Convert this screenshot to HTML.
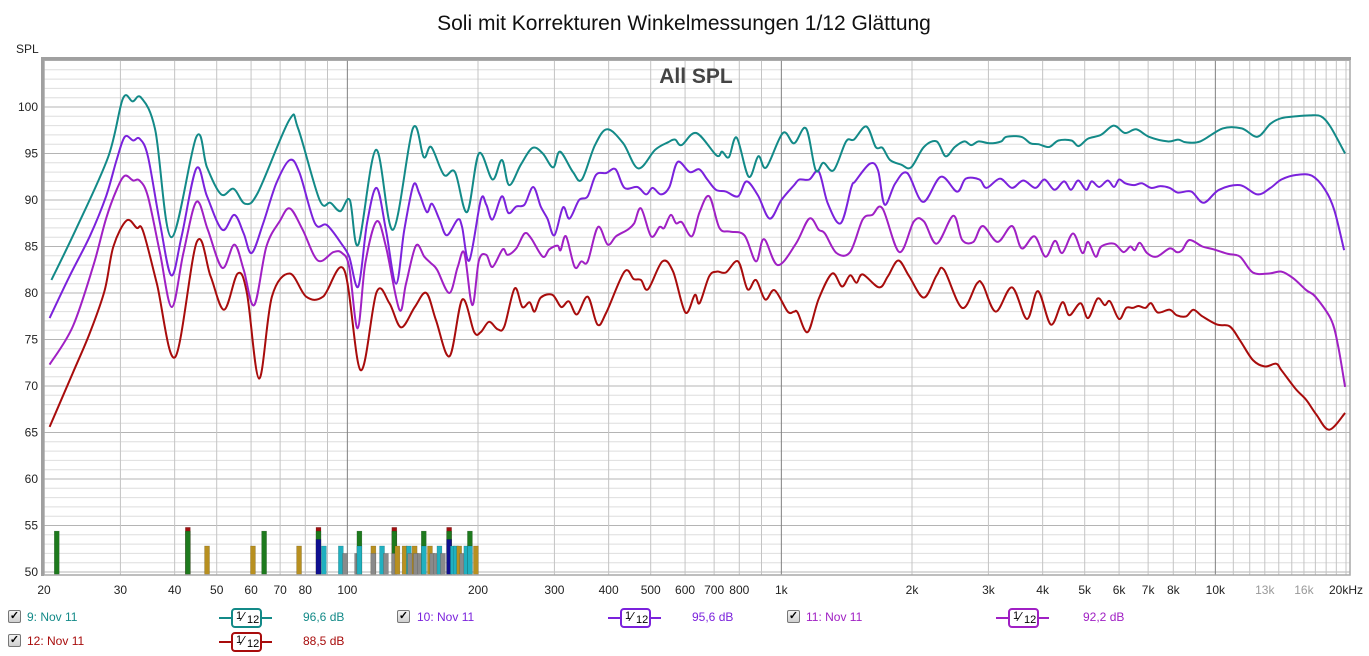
<!DOCTYPE html>
<html><head><meta charset="utf-8">
<style>
body{margin:0;background:#fff;width:1369px;height:656px;overflow:hidden;font-family:"Liberation Sans",sans-serif;}
#wrap{position:relative;width:1369px;height:656px;}
.leg{position:absolute;font-size:12px;}
.cb{position:absolute;width:11px;height:11px;border:1px solid #777;background:linear-gradient(#f4f4f4,#cfcfcf);border-radius:2px;font-size:11px;line-height:11px;text-align:center;color:#000;font-weight:bold;}
.flt{position:absolute;height:20px;}
.flt .ln{position:absolute;top:9px;height:2px;left:0;right:0;}
.flt .bx{position:absolute;top:0;left:12px;width:27px;height:16px;border:2px solid;border-radius:4px;background:#fff;color:#000;font-size:11px;}
</style></head><body>
<div id="wrap">
<svg id="chart" width="1369" height="600" style="position:absolute;left:0;top:0">
<text x="684" y="30" text-anchor="middle" font-size="21" fill="#111" font-family="Liberation Sans, sans-serif">Soli mit Korrekturen Winkelmessungen 1/12 Glättung</text>
<text x="16" y="53" font-size="12" fill="#222" font-family="Liberation Sans, sans-serif">SPL</text>
<g id="grid"></g>
<g id="bars"></g>
<g id="lines"></g>
<text x="696" y="83" text-anchor="middle" font-size="21" font-weight="bold" fill="#444" font-family="Liberation Sans, sans-serif">All SPL</text>
<g id="axes"></g>
</svg>

<div class="cb" style="left:8px;top:610px">✓</div>
<div class="leg" style="left:27px;top:610px;color:#138a88">9: Nov 11</div>
<div class="flt" style="left:219px;top:608px"><div class="ln" style="background:#138a88;width:53px"></div><div class="bx" style="border-color:#138a88"><span style="position:absolute;left:3px;top:0">1</span><span style="position:absolute;left:9px;top:-1px;font-size:13px">⁄</span><span style="position:absolute;left:14px;top:4px">12</span></div></div>
<div class="leg" style="left:303px;top:610px;color:#138a88">96,6 dB</div>

<div class="cb" style="left:397px;top:610px">✓</div>
<div class="leg" style="left:417px;top:610px;color:#7b22dc">10: Nov 11</div>
<div class="flt" style="left:608px;top:608px"><div class="ln" style="background:#7b22dc;width:53px"></div><div class="bx" style="border-color:#7b22dc"><span style="position:absolute;left:3px;top:0">1</span><span style="position:absolute;left:9px;top:-1px;font-size:13px">⁄</span><span style="position:absolute;left:14px;top:4px">12</span></div></div>
<div class="leg" style="left:692px;top:610px;color:#7b22dc">95,6 dB</div>

<div class="cb" style="left:787px;top:610px">✓</div>
<div class="leg" style="left:806px;top:610px;color:#a020c4">11: Nov 11</div>
<div class="flt" style="left:996px;top:608px"><div class="ln" style="background:#a020c4;width:53px"></div><div class="bx" style="border-color:#a020c4"><span style="position:absolute;left:3px;top:0">1</span><span style="position:absolute;left:9px;top:-1px;font-size:13px">⁄</span><span style="position:absolute;left:14px;top:4px">12</span></div></div>
<div class="leg" style="left:1083px;top:610px;color:#a020c4">92,2 dB</div>

<div class="cb" style="left:8px;top:634px">✓</div>
<div class="leg" style="left:27px;top:634px;color:#a80c0c">12: Nov 11</div>
<div class="flt" style="left:219px;top:632px"><div class="ln" style="background:#a80c0c;width:53px"></div><div class="bx" style="border-color:#a80c0c"><span style="position:absolute;left:3px;top:0">1</span><span style="position:absolute;left:9px;top:-1px;font-size:13px">⁄</span><span style="position:absolute;left:14px;top:4px">12</span></div></div>
<div class="leg" style="left:303px;top:634px;color:#a80c0c">88,5 dB</div>
</div>
<script>
const yTicks=[100,95,90,85,80,75,70,65,60,55,50];
const xTickFreqs=[20,30,40,50,60,70,80,100,200,300,400,500,600,700,800,1000,2000,3000,4000,5000,6000,7000,8000,10000,13000,16000,20000];
const xTickLabels=["20","30","40","50","60","70","80","100","200","300","400","500","600","700","800","1k","2k","3k","4k","5k","6k","7k","8k","10k","13k","16k","20kHz"];

const freq9=[20.8,23.5,28.1,30.4,32,33.5,36.1,39.3,44.9,47.5,51.2,54.7,58.1,62.2,73.5,77,86.3,91.4,96.3,101.3,106,116.4,127.4,141.6,150,156,167,177,188.8,201,216,227,236,251,267,282,298,309,331,347,372,397,432,468,512,548,569,589,637,709,730,757,789,841,885,923,1008,1070,1140,1200,1250,1320,1410,1470,1570,1650,1710,1780,1890,1990,2130,2280,2390,2510,2640,2740,2850,3020,3210,3300,3570,3750,3910,4140,4350,4660,4840,5090,5450,5830,6190,6570,7030,7760,8210,8550,9230,10400,11500,12500,13400,14200,15400,16500,17500,18400,19900];
const spl9=[81.4,86.5,94.6,100.9,100.6,101,97.5,86,96.8,93.5,90.6,91.2,89.6,90.8,98.6,97.7,90,89.7,88.8,90,85.2,95.4,86.8,97.7,94.6,95.7,92.7,93,88.7,95,92.2,94.3,91.6,93.8,95.6,95,93.5,95.2,93,92.2,95.9,97.6,96.1,93.4,95.4,96.2,96.5,95.9,97.2,94.8,95.2,94.6,96.7,92.5,94.7,93.5,97.2,96.1,97.7,93.2,94.0,93.2,96.3,96.5,97.9,95.7,95.6,94.3,93.8,93.5,95.7,96.3,94.7,95.7,96.3,95.9,96.3,96.1,96.3,96.8,96.8,96.1,96.0,95.7,96.4,96.4,95.8,96.6,97.0,98.0,97.2,97.6,96.8,96.3,96.5,96.2,96.3,97.7,97.7,96.8,98.2,98.8,99.0,99.1,99.0,97.9,95.0];

const freq10=[20.6,22.9,25.5,27.8,29.4,30.7,32.1,33.2,34.7,37.0,39.3,41.5,44.9,47.5,51.5,54.9,57.7,60.2,64.0,68.6,73.7,77.6,84.2,89.7,96.9,101,106,111,116.8,122.7,129.5,135.3,142,146.5,152.4,156.7,163,169.5,179.6,183.8,191,203,209,216,227,235,245,256,268,279,289,300,314,325,342,358,374,395,415,435,466,488,505,528,552,577,615,647,675,707,745,795,831,883,940,1000,1070,1100,1160,1220,1280,1370,1450,1480,1600,1670,1730,1830,1950,2120,2330,2540,2660,2860,2970,3190,3400,3610,3850,4040,4260,4480,4650,4830,5040,5190,5400,5650,5840,6000,6200,6500,6770,7110,7470,7850,8200,8800,9400,10200,11400,12500,13400,14200,15400,16700,17900,18800,19800];
const spl10=[77.3,81.8,86.1,90.4,94.3,96.8,96.4,96.6,94.7,87.5,81.9,86.1,93.4,90.4,86.8,88.4,86.4,84.3,87.5,91.8,94.3,92.9,87.5,87.3,85.3,83.9,80.7,87.5,91.3,86.8,81.0,86.8,91.6,90.7,88.7,89.6,87.9,86.2,87.9,87.1,83.5,90.0,89.5,87.9,90.4,88.6,89.3,89.5,91.4,89.3,88.0,86.2,89.2,88.0,90.0,90.4,92.7,92.9,93.3,91.3,91.4,90.6,91.3,90.6,91.4,94.1,93.0,93.3,92.2,91.1,90.9,90.4,92.0,90.5,88.0,90.0,91.6,92.2,92.2,93.05,89.6,87.5,91.4,92.0,93.9,93.2,89.5,91.8,92.9,89.8,92.5,90.9,92.3,92.2,91.3,92.3,91.3,92.1,91.3,92.2,91.1,92.0,91.1,92.1,91.1,92.0,91.4,92.1,91.4,92.2,91.8,91.6,91.8,91.3,91.5,91.3,90.8,90.9,89.7,91.1,91.6,90.6,91.3,92.2,92.7,92.6,91.1,88.9,84.6];

const freq11=[20.6,23.3,26,27.8,29.4,30.7,32.1,33.2,34.7,37,39.4,41.9,44.9,47.7,51.5,54.9,57.7,61,65.1,69.8,73.7,78.9,85.5,92.9,97.2,101,105.6,110,116.8,122.7,131.8,136.5,143.9,150.4,155.8,161,171.8,179.6,186,194,201,209,216,228,234,245,256,265,282,292,305,310,319,334,346,358,378,398,416,442,458,475,501,524,537,556,572,590,622,648,682,720,761,822,874,912,981,1080,1160,1220,1260,1340,1440,1540,1620,1710,1870,2020,2130,2280,2490,2610,2770,2910,3150,3400,3580,3830,4060,4270,4440,4700,4940,5090,5300,5460,5840,6140,6370,6520,6700,6960,7320,7850,8150,8380,8720,9330,9900,10700,11400,12200,13300,14200,15100,16200,17000,18500,19200,19900];
const spl11=[72.3,76.4,83,88.0,91.1,92.6,92.1,92.1,90.4,84.3,78.5,84.3,89.8,86.8,82.7,85.2,82.5,78.7,85.0,87.7,89.1,86.8,83.5,84.4,84.3,82.8,76.2,83.2,87.7,85.0,78.2,81.0,85.1,83.9,83.2,82.5,80.0,82.8,84.3,78.7,83.5,84.1,82.8,84.7,84.1,84.8,86.4,85.9,83.9,84.7,85.1,84.6,86.1,82.8,83.4,83.4,87.1,85.2,86.1,86.8,87.5,89.1,86.1,87.1,87.0,88.4,87.5,87.6,86.1,88.7,90.4,87.0,86.6,86.2,83.4,85.8,83.0,85.3,88.0,86.8,86.4,84.3,84.4,87.9,88.4,89.1,84.4,87.7,87.7,85.3,88.3,85.7,85.5,87.2,85.5,87.2,84.8,86.1,83.9,85.6,84.3,86.4,84.3,85.5,83.9,85.0,85.3,84.4,85.0,84.6,85.4,84.3,83.9,84.8,84.4,84.6,85.7,85.0,84.7,84.2,83.9,82.2,82.1,82.3,81.6,80.3,79.6,77.1,74.2,69.9];

const freq12=[20.6,23.3,25.5,27.6,28.9,31.0,32.7,33.8,36.4,40.1,45.0,48.4,52.0,55.9,58.7,62.6,67.0,73.6,80.4,87.9,98.3,107.3,116.8,125,133,143,152,160,172,184,196,203,212,222,230,243,253,263,270,279,297,311,324,338,358,377,395,435,457,475,493,532,563,601,632,648,682,710,745,795,836,874,918,965,1034,1070,1090,1150,1220,1310,1380,1440,1490,1540,1680,1760,1860,1970,2130,2280,2370,2610,2820,2910,3120,3400,3680,3900,4180,4440,4610,4890,5090,5350,5560,5720,6000,6230,6450,6650,6900,7110,7370,7850,8150,8570,8900,9330,10100,10800,11400,12200,13000,13800,14200,15300,16200,17100,18300,19900];
const spl12=[65.6,71.4,75.7,80.3,85.0,87.8,87.0,86.7,81.0,73.1,85.5,81.8,78.2,82.1,80.0,70.8,79.6,82.1,79.6,79.6,82.5,71.7,80.1,78.9,76.3,78.5,80.0,77.1,73.2,79.3,75.8,75.8,76.9,76.1,76.4,80.5,78.5,79.0,78.0,79.5,79.8,78.5,79.1,77.7,79.6,76.6,77.9,82.3,81.5,81.4,80.4,83.4,82.3,77.9,79.8,78.9,81.8,82.3,82.2,83.4,80.4,81.4,79.3,80.3,78.0,78.0,77.9,75.8,79.4,82.1,80.7,81.9,81.1,82.0,80.6,81.8,83.5,81.8,79.5,81.9,82.5,78.4,81.0,80.9,78.0,80.6,77.2,80.2,76.6,79.0,77.6,78.9,77.3,79.4,78.7,79.1,77.2,78.4,78.4,78.6,78.4,78.9,77.9,78.2,77.6,77.5,78.2,77.5,76.6,76.4,74.9,72.8,72.1,72.4,71.7,69.7,68.5,66.9,65.3,67.1];

// bottom marker bars: frequency, top level, colour key
const barFreqs=[21.4,42.9,42.9,47.5,60.6,64.3,77.4,85.8,85.8,85.8,88.3,96.6,98.8,105.3,106.6,106.6,114.8,114.8,120.2,122.7,128.3,128.3,128.3,130.4,135.5,138.6,139.5,142.9,143.9,147,150,150,155,157,160,163,166,171.6,171.6,171.6,175,178,181,184,188,191.6,191.6,197.8];
const barTops=[54.4,54.8,54.4,52.8,52.8,54.4,52.8,54.8,54.4,53.5,52.8,52.8,52,52,54.4,52.8,52.8,52,52.8,52,54.8,54.4,52,52.8,52.8,52.8,52,52.8,52,52,54.4,52.8,52.8,52,52,52.8,52,54.8,54.4,53.5,52.8,52.8,52.8,52,52.8,54.4,52.8,52.8];
const barKinds=["g","r","g","o","o","g","o","r","g","b","c","c","k","k","g","c","o","k","c","k","r","g","k","o","o","c","k","o","k","k","g","c","o","k","k","c","k","r","g","b","c","c","o","k","c","g","c","o"];

const NS="http://www.w3.org/2000/svg";
const L=44,R=1350,T=60,B=575;
function fx(f){return L+434*Math.log10(f/20);}
function yv(d){return 107+(100-d)*9.3;}
function mk(tag,attrs,parent){const e=document.createElementNS(NS,tag);for(const k in attrs)e.setAttribute(k,attrs[k]);parent.appendChild(e);return e;}

const grid=document.getElementById('grid');
const bg=mk('rect',{x:L,y:T,width:R-L,height:B-T,fill:'#fff'},grid);


for(let d=50;d<=105;d++){
  const ln=mk('line',{x1:L,x2:R,y1:yv(d),y2:yv(d),stroke:d%5===0?'#b4b4b4':'#dedede','stroke-width':1},grid);
  
  
}
const vg=[];
for(let f=20;f<100;f+=10)vg.push(f);
for(let f=100;f<1000;f+=100)vg.push(f);
for(let f=1000;f<10000;f+=1000)vg.push(f);
for(let f=10000;f<=20000;f+=1000)vg.push(f);
vg.forEach(f=>{
  const major=(f===100||f===1000||f===10000);
  const ln=mk('line',{x1:fx(f),x2:fx(f),y1:T,y2:B,stroke:major?'#808080':'#c4c4c4','stroke-width':1},grid);
  
  
});

const barCol={g:'#1e7a1e',r:'#a01010',b:'#101090',o:'#b89020',c:'#20b0c0',k:'#8a8a8a'};
const barsG=document.getElementById('bars');
barFreqs.forEach((f,i)=>{
  const x=fx(f)-2.5, y=yv(barTops[i]);
  const r=mk('rect',{x:x,y:y,width:5,height:yv(49.75)-y,fill:barCol[barKinds[i]],stroke:'rgba(0,0,0,0.25)','stroke-width':0.5},barsG);
  
  
});

function pathFor(fs,vs){
  const n=Math.min(fs.length,vs.length);
  const p=[];
  for(let i=0;i<n;i++)p.push([fx(fs[i]),yv(vs[i])]);
  let d='M'+p[0][0].toFixed(1)+','+p[0][1].toFixed(1);
  for(let i=0;i<p.length-1;i++){
    const p0=p[i-1]||p[i],p1=p[i],p2=p[i+1],p3=p[i+2]||p2;
    const c1x=p1[0]+(p2[0]-p0[0])/6,c1y=p1[1]+(p2[1]-p0[1])/6;
    const c2x=p2[0]-(p3[0]-p1[0])/6,c2y=p2[1]-(p3[1]-p1[1])/6;
    d+=' C'+c1x.toFixed(1)+','+c1y.toFixed(1)+' '+c2x.toFixed(1)+','+c2y.toFixed(1)+' '+p2[0].toFixed(1)+','+p2[1].toFixed(1);
  }
  return d;
}
const linesG=document.getElementById('lines');
const series=[[freq12,spl12,'#a80c0c','series-12-line'],[freq11,spl11,'#a020c4','series-11-line'],[freq10,spl10,'#7b22dc','series-10-line'],[freq9,spl9,'#138a88','series-9-line']];
series.forEach(s=>{
  const p=mk('path',{d:pathFor(s[0],s[1]),fill:'none',stroke:s[2],'stroke-width':2,'stroke-linejoin':'round'},linesG);
  
  
});

const axes=document.getElementById('axes');
mk('rect',{x:L,y:T,width:R-L,height:B-T,fill:'none',stroke:'#a8a8a8','stroke-width':1.5},axes);
mk('line',{x1:L-1.5,x2:L-1.5,y1:T-2,y2:B+1,stroke:'#a0a0a0','stroke-width':3},axes);
mk('line',{x1:L-3,x2:R+1,y1:T-1.5,y2:T-1.5,stroke:'#a0a0a0','stroke-width':3},axes);
yTicks.forEach(d=>{
  const t=mk('text',{x:38,y:yv(d)+4,'text-anchor':'end','font-size':12,fill:'#222','font-family':'Liberation Sans, sans-serif'},axes);
  t.textContent=d;
  
  
});
xTickFreqs.forEach((f,i)=>{
  let x=fx(f);
  const lab=xTickLabels[i];
  const anchor=lab==='20kHz'?'end':'middle';
  if(lab==='20kHz')x=1363;
  const t=mk('text',{x:x,y:594,'text-anchor':anchor,'font-size':12,fill:(lab==='13k'||lab==='16k')?'#999':'#222','font-family':'Liberation Sans, sans-serif'},axes);
  t.textContent=lab;
  
  
});
</script>
</body></html>
